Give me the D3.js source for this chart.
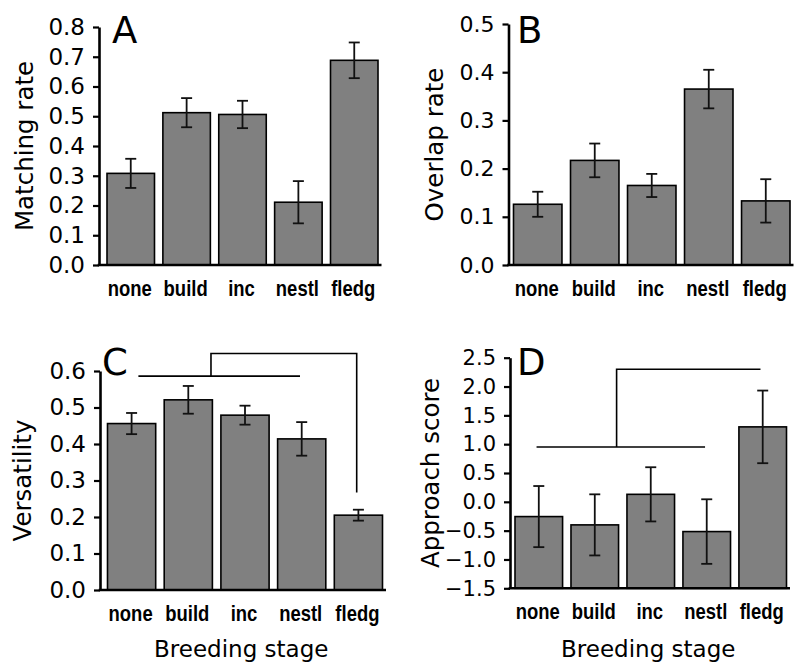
<!DOCTYPE html>
<html>
<head>
<meta charset="utf-8">
<script src="https://cdn.jsdelivr.net/npm/d3@7"></script>
<style>
  html, body { margin: 0; padding: 0; background: #fff; }
  svg { display: block; }
</style>
</head>
<body>
<svg id="chart" width="800" height="669"></svg>
<script>
// ---------------- DATA ----------------
const categories = ["none", "build", "inc", "nestl", "fledg"];

const matchingRate = [0.308, 0.512, 0.506, 0.211, 0.688];
const matchingErr  = [0.049, 0.049, 0.046, 0.071, 0.060];

const overlapRate  = [0.126, 0.217, 0.165, 0.365, 0.133];
const overlapErr   = [0.026, 0.035, 0.024, 0.040, 0.045];

const versatility    = [0.456, 0.521, 0.479, 0.414, 0.205];
const versatilityErr = [0.029, 0.038, 0.026, 0.046, 0.015];

const approachScore = [-0.256, -0.40, 0.13, -0.516, 1.30];
const approachErr   = [0.53, 0.53, 0.47, 0.56, 0.63];

const ticksA = [0.0, 0.1, 0.2, 0.3, 0.4, 0.5, 0.6, 0.7, 0.8];
const ticksB = [0.0, 0.1, 0.2, 0.3, 0.4, 0.5];
const ticksC = [0.0, 0.1, 0.2, 0.3, 0.4, 0.5, 0.6];
const ticksD = [-1.5, -1.0, -0.5, 0.0, 0.5, 1.0, 1.5, 2.0, 2.5];

const yLabels = ["Matching rate", "Overlap rate", "Versatility", "Approach score"];
const panelLetters = ["A", "B", "C", "D"];
const xTitle = "Breeding stage";

// significance brackets (x in category-index units, y in data units)
const bracketC = { xFrom: 0.12, xTo: 2.97, xMid: 1.40, xRight: 3.97, yLow: 0.586, yHigh: 0.648, yEnd: 0.267 };
const bracketD = { xFrom: -0.04, xTo: 2.97, xMid: 1.39, xRight: 3.96, yLow: 0.95, yHigh: 2.30, yEnd: null };

// ---------------- LAYOUT ----------------
const panels = [
  { values: matchingRate, errs: matchingErr, ticks: ticksA, label: yLabels[0], letter: panelLetters[0],
    axisX: 99, yTopPx: 27, yBotPx: 265, barStart: 107, barEnd: 378, letterPos: [112, 43], yLabelX: 33, tickFont: 23, xTitle: false, bracket: null },
  { values: overlapRate, errs: overlapErr, ticks: ticksB, label: yLabels[1], letter: panelLetters[1],
    axisX: 508.5, yTopPx: 24, yBotPx: 265, barStart: 513.5, barEnd: 790, letterPos: [517, 43], yLabelX: 443, tickFont: 22, xTitle: false, bracket: null },
  { values: versatility, errs: versatilityErr, ticks: ticksC, label: yLabels[2], letter: panelLetters[2],
    axisX: 100, yTopPx: 371, yBotPx: 590, barStart: 107.5, barEnd: 382.5, letterPos: [102, 375], yLabelX: 31, tickFont: 23, xTitle: true, bracket: bracketC },
  { values: approachScore, errs: approachErr, ticks: ticksD, label: yLabels[3], letter: panelLetters[3],
    axisX: 510, yTopPx: 357.7, yBotPx: 588.3, barStart: 515, barEnd: 786.5, letterPos: [517, 375], yLabelX: 439, tickFont: 21, xTitle: true, bracket: bracketD }
];

const svg = d3.select("#chart");
const tickFontFamily = "'DejaVu Sans', Verdana, sans-serif";
const catFontFamily = "'Liberation Sans', Arial, sans-serif";

panels.forEach(p => {
  const g = svg.append("g");
  const domainMin = d3.min(p.ticks), domainMax = d3.max(p.ticks);
  const y = d3.scaleLinear().domain([domainMin, domainMax]).range([p.yBotPx, p.yTopPx]);
  const x = d3.scaleBand().domain(categories).range([p.barStart, p.barEnd]).paddingInner(0.15).paddingOuter(0);
  const bw = x.bandwidth();
  const xIdx = d3.scaleLinear().domain([0, categories.length - 1])
    .range([x(categories[0]) + bw / 2, x(categories[categories.length - 1]) + bw / 2]);

  const rows = categories.map((c, i) => ({ c, v: p.values[i], e: p.errs[i] }));

  // bars (drawn from bottom of axis)
  g.selectAll("rect.bar").data(rows).join("rect")
    .attr("class", "bar")
    .attr("x", d => x(d.c))
    .attr("width", bw)
    .attr("y", d => y(d.v))
    .attr("height", d => y(domainMin) - y(d.v))
    .attr("fill", "#808080")
    .attr("stroke", "#000")
    .attr("stroke-width", 1.6);

  // error bars
  const capHalf = 5.5;
  const eb = g.selectAll("g.err").data(rows).join("g").attr("class", "err")
    .attr("stroke", "#111").attr("stroke-width", 1.8);
  eb.append("line")
    .attr("x1", d => x(d.c) + bw / 2).attr("x2", d => x(d.c) + bw / 2)
    .attr("y1", d => y(d.v + d.e)).attr("y2", d => y(d.v - d.e));
  eb.append("line")
    .attr("x1", d => x(d.c) + bw / 2 - capHalf).attr("x2", d => x(d.c) + bw / 2 + capHalf)
    .attr("y1", d => y(d.v + d.e)).attr("y2", d => y(d.v + d.e));
  eb.append("line")
    .attr("x1", d => x(d.c) + bw / 2 - capHalf).attr("x2", d => x(d.c) + bw / 2 + capHalf)
    .attr("y1", d => y(d.v - d.e)).attr("y2", d => y(d.v - d.e));

  // y axis
  const yAxis = d3.axisLeft(y).tickValues(p.ticks).tickFormat(d3.format(".1f"))
    .tickSize(6).tickSizeOuter(0).tickPadding(8);
  const ag = g.append("g").attr("transform", `translate(${p.axisX},0)`).call(yAxis);
  ag.select(".domain").attr("stroke", "#000").attr("stroke-width", 2.6);
  ag.selectAll(".tick line").attr("stroke", "#000").attr("stroke-width", 2.2);
  ag.selectAll(".tick text")
    .attr("fill", "#000")
    .style("font-family", tickFontFamily)
    .style("font-size", p.tickFont + "px");

  // x baseline
  g.append("line")
    .attr("x1", p.axisX - 1.3).attr("x2", p.barEnd + 3.5)
    .attr("y1", y(domainMin)).attr("y2", y(domainMin))
    .attr("stroke", "#000").attr("stroke-width", 2.6);

  // category labels
  g.selectAll("text.cat").data(rows).join("text")
    .attr("class", "cat")
    .attr("transform", d => `translate(${x(d.c) + bw / 2 - 1},${p.yBotPx + 31}) scale(0.84,1)`)
    .attr("text-anchor", "middle")
    .style("font-family", catFontFamily)
    .style("font-weight", "bold")
    .style("font-size", "22px")
    .attr("fill", "#000")
    .text(d => d.c);

  // y label
  g.append("text")
    .attr("transform", `translate(${p.yLabelX},${(p.yTopPx + p.yBotPx) / 2}) rotate(-90)`)
    .attr("text-anchor", "middle")
    .style("font-family", tickFontFamily)
    .style("font-size", "24.5px")
    .attr("fill", "#000")
    .text(p.label);

  // panel letter
  g.append("text")
    .attr("x", p.letterPos[0]).attr("y", p.letterPos[1])
    .style("font-family", tickFontFamily)
    .style("font-size", "37px")
    .attr("fill", "#000")
    .text(p.letter);

  // x title
  if (p.xTitle) {
    g.append("text")
      .attr("x", (p.axisX + p.barEnd) / 2).attr("y", 657)
      .attr("text-anchor", "middle")
      .style("font-family", tickFontFamily)
      .style("font-size", "23px")
      .attr("fill", "#000")
      .text(xTitle);
  }

  // bracket
  if (p.bracket) {
    const b = p.bracket;
    const bg = g.append("g").attr("fill", "none").attr("stroke", "#000").attr("stroke-width", 1.6);
    bg.append("line").attr("x1", xIdx(b.xFrom)).attr("x2", xIdx(b.xTo)).attr("y1", y(b.yLow)).attr("y2", y(b.yLow));
    const pts = [[xIdx(b.xMid), y(b.yLow)], [xIdx(b.xMid), y(b.yHigh)], [xIdx(b.xRight), y(b.yHigh)]];
    if (b.yEnd !== null) pts.push([xIdx(b.xRight), y(b.yEnd)]);
    bg.append("path").attr("d", d3.line()(pts));
  }
});
</script>
</body>
</html>
